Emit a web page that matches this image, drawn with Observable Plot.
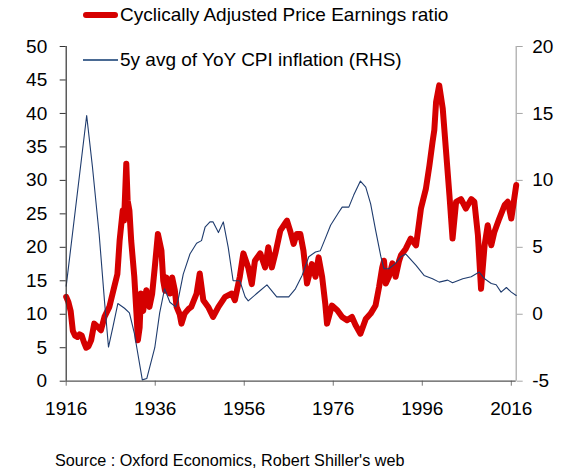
<!DOCTYPE html>
<html>
<head>
<meta charset="utf-8">
<script src="https://cdn.jsdelivr.net/npm/d3@7"></script>
<script src="https://cdn.jsdelivr.net/npm/@observablehq/plot@0.6"></script>
<style>
  html, body { margin: 0; padding: 0; background: #fff; }
  #wrap { position: relative; width: 571px; height: 471px; font-family: "Liberation Sans", Arial, Helvetica, sans-serif; color: #000; }
  .leg { position: absolute; left: 83px; display: flex; align-items: center; font-size: 19px; white-space: nowrap; }
  .sw { width: 35px; margin-right: 2px; }
  #caption { position: absolute; left: 55px; top: 451px; font-size: 16.2px; line-height: 18px; white-space: nowrap; }
</style>
</head>
<body>
<div id="wrap">
  <div id="chart"></div>
  <div class="leg" style="top:4px;height:22px"><div class="sw" style="height:6px;background:#d50000;border-radius:3px"></div><span>Cyclically Adjusted Price Earnings ratio</span></div>
  <div class="leg" style="top:49px;height:22px"><div class="sw" style="height:1.2px;background:#4a6a93"></div><span>5y avg of YoY CPI inflation (RHS)</span></div>
  <div id="caption">Source : Oxford Economics, Robert Shiller's web</div>
</div>
<script>
// Cyclically Adjusted Price Earnings ratio (left axis)
const capeYears = [1916.0,1916.5,1917.0,1917.5,1918.0,1918.5,1919.0,1919.5,1920.0,1920.5,1921.0,1921.6,1922.3,1923.1,1923.8,1924.6,1925.7,1926.8,1927.5,1928.0,1928.7,1929.0,1929.5,1929.8,1930.2,1930.6,1931.3,1931.8,1932.1,1932.5,1932.8,1933.3,1934.0,1934.7,1935.3,1935.9,1936.6,1937.4,1937.8,1938.2,1938.5,1939.3,1939.8,1940.4,1940.8,1941.5,1941.9,1942.6,1943.5,1944.1,1945.3,1946.0,1946.8,1947.9,1949.0,1950.2,1951.7,1953.2,1953.9,1955.0,1955.8,1956.9,1957.7,1958.4,1959.6,1960.7,1961.4,1962.2,1963.0,1964.1,1965.2,1965.6,1966.3,1967.1,1967.8,1968.6,1969.3,1970.1,1971.2,1972.0,1972.7,1973.5,1974.2,1974.6,1975.7,1976.9,1978.0,1979.1,1980.2,1981.0,1982.1,1983.3,1984.4,1985.5,1986.3,1987.0,1987.4,1987.8,1988.5,1989.3,1990.0,1990.8,1991.2,1992.3,1993.4,1994.6,1995.7,1996.8,1997.6,1998.3,1998.7,1999.1,1999.8,2000.6,2001.3,2002.1,2002.8,2003.6,2004.7,2005.8,2007.0,2007.7,2008.5,2009.2,2010.0,2010.7,2011.5,2012.2,2013.3,2014.5,2015.2,2016.0,2016.6,2017.1];
const capeValues = [12.6,11.8,10.5,7.5,6.8,6.6,7.0,6.8,5.8,5.0,5.2,6.1,8.6,8.1,7.6,9.6,11.1,14.1,16.0,21.0,25.5,24.0,32.5,27.0,25.5,21.0,15.6,10.0,6.1,8.0,13.1,10.5,13.6,11.1,13.0,17.0,22.0,19.5,15.0,13.5,15.5,13.1,15.5,13.6,11.1,10.0,8.6,10.1,10.8,11.1,13.1,16.1,12.1,11.1,9.6,11.1,12.6,13.1,12.1,15.6,19.1,17.0,14.5,18.0,19.1,17.0,20.0,17.0,19.1,22.5,23.6,24.0,22.5,20.5,22.0,22.0,19.5,14.6,17.5,15.6,18.5,15.6,11.6,8.6,11.3,10.6,9.6,9.1,9.6,8.4,7.1,9.3,10.1,11.3,14.1,17.0,18.0,14.6,15.6,17.6,15.6,18.0,18.8,19.8,21.3,20.3,25.8,28.7,32.2,35.7,37.5,41.7,44.2,40.7,34.7,27.8,21.3,26.8,27.2,25.8,27.2,26.8,21.8,13.8,20.3,23.3,20.3,22.3,24.3,26.3,26.8,24.3,27.0,29.3];

// 5y avg of YoY CPI inflation, % (right axis)
const cpiYears = [1916.0,1920.6,1921.9,1923.4,1924.6,1925.5,1926.5,1927.6,1929.1,1930.2,1931.3,1933.1,1934.1,1935.9,1937.0,1938.1,1939.3,1940.6,1941.1,1942.3,1943.8,1945.3,1946.4,1947.2,1948.3,1949.0,1950.2,1951.3,1952.4,1953.5,1955.0,1956.2,1956.9,1958.8,1961.1,1963.3,1966.0,1967.5,1969.0,1970.5,1972.0,1973.1,1974.2,1975.4,1977.2,1978.0,1979.5,1980.6,1982.1,1983.3,1984.4,1985.5,1986.7,1987.4,1988.5,1990.0,1991.2,1992.3,1994.6,1996.4,1998.3,1999.8,2001.7,2002.8,2005.1,2007.0,2008.8,2010.0,2011.5,2012.6,2013.7,2014.9,2016.0,2017.1];
const cpiValues = [2.1,14.85,11.0,6.0,1.0,-2.45,-0.95,0.8,0.45,0.1,-1.4,-4.9,-4.8,-2.5,0.1,1.9,0.9,0.55,1.0,3.0,4.5,5.3,5.5,6.5,6.9,6.9,6.1,6.9,5.0,2.5,2.5,1.3,1.0,1.55,2.2,1.3,1.3,1.9,2.9,4.3,4.65,4.75,5.65,6.65,7.6,8.0,8.0,8.9,9.95,9.5,8.25,6.3,4.3,3.4,3.4,3.8,4.3,4.5,3.65,2.9,2.65,2.4,2.55,2.35,2.65,2.8,3.15,2.65,2.3,2.2,1.65,2.0,1.65,1.4];

const xTicks = [1916, 1936, 1956, 1976, 1996, 2016];
const leftTicks = [0, 5, 10, 15, 20, 25, 30, 35, 40, 45, 50];
const rightTicks = [-5, 0, 5, 10, 15, 20];
const xDomain = [1916, 2017.1];
const leftDomain = [0, 50];
const rightDomain = [-5, 20];

// map right-axis values onto the left scale
const toLeft = v => leftDomain[0] + (v - rightDomain[0]) * (leftDomain[1] - leftDomain[0]) / (rightDomain[1] - rightDomain[0]);
const toRight = v => rightDomain[0] + (v - leftDomain[0]) * (rightDomain[1] - rightDomain[0]) / (leftDomain[1] - leftDomain[0]);

const cape = capeYears.map((x, i) => ({x, y: capeValues[i]}));
const cpi = cpiYears.map((x, i) => ({x, y: toLeft(cpiValues[i])}));

const chart = Plot.plot({
  width: 571,
  height: 425,
  marginLeft: 65.7,
  marginRight: 55.3,
  marginTop: 46,
  marginBottom: 44.3,
  style: {fontFamily: '"Liberation Sans", Arial, Helvetica, sans-serif', fontSize: "19px", background: "#fff", color: "#000", overflow: "visible"},
  x: {domain: xDomain},
  y: {domain: leftDomain},
  marks: [
    Plot.axisX({ticks: xTicks, tickFormat: d => String(d), tickSize: 5, tickPadding: 15, stroke: "#777", color: "#000", fontSize: 19, label: null}),
    Plot.axisY({ticks: leftTicks, tickFormat: d => String(d), tickSize: 6, tickPadding: 13, stroke: "#333", color: "#000", fontSize: 19, label: null}),
    Plot.axisY({anchor: "right", ticks: rightTicks.map(toLeft), tickFormat: d => String(Math.round(toRight(d))), tickSize: 6, tickPadding: 10, stroke: "#a6a6a6", color: "#000", fontSize: 19, label: null}),
    Plot.ruleX([xDomain[1]], {stroke: "#a6a6a6", strokeWidth: 1.2}),
    Plot.line(cape, {x: "x", y: "y", stroke: "#d50000", strokeWidth: 6, strokeLinejoin: "round", strokeLinecap: "round"}),
    Plot.line(cpi, {x: "x", y: "y", stroke: "#1f3c6e", strokeWidth: 1.1}),
    Plot.ruleX([xDomain[0]], {stroke: "#333", strokeWidth: 1.2}),
    Plot.ruleY([leftDomain[0]], {stroke: "#555", strokeWidth: 1.2})
  ]
});
document.getElementById("chart").appendChild(chart);
</script>
</body>
</html>
